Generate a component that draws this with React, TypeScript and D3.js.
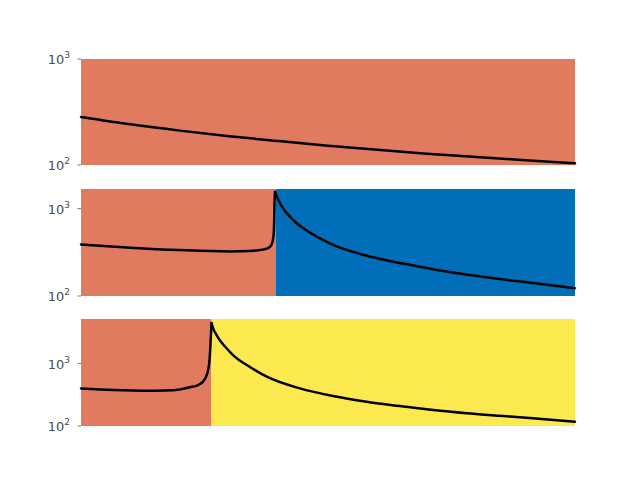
import React from "react";
import * as d3 from "d3";

// x runs 0..100 across each panel, y values
const xs1 = [0, 10, 20, 30, 40, 50, 60, 70, 80, 90, 100];
const vals1 = [284, 242, 211, 187, 168, 152, 139, 128, 119, 111, 104];

const xs2 = [0, 10, 20, 30, 34.2, 36.23, 37.25, 37.85, 38.26, 38.66, 38.93, 39.07, 39.17, 39.27,
  39.68, 40.28, 41.3, 42.3, 43.66, 45, 48.38, 51.76, 55.12, 58.5, 65.2, 72.1, 78.7, 85.4, 92.3, 100];
const vals2 = [390, 358, 336, 324, 327, 336, 344, 354, 367, 399, 468, 609, 1147, 1553,
  1361, 1153, 941, 810, 680, 597, 458, 370, 320, 283, 235, 199, 174, 155, 139, 123];
const peak2 = 13;

const xs3 = [0, 6.5, 13.4, 17, 20, 22.06, 23.68, 24.7, 25.3, 25.71, 26.01, 26.21, 26.42,
  26.72, 27.33, 28.14, 29.15, 30.77, 34.2, 37.6, 44.3, 51, 57.8, 64.6, 71.3, 78.1, 84.8, 91.5, 100];
const vals3 = [401, 378, 367, 370, 385, 417, 454, 515, 610, 773, 1133, 2023, 4470,
  3720, 2980, 2345, 1880, 1374, 883, 617, 401, 302, 245, 209, 180, 160, 146, 133, 117];
const peak3 = 12;

const yTicks = [100, 1000];
const yTickExp = ["2", "3"];

const panels = [
  { xs: xs1, vals: vals1, peak: -1, yMax: 1000, top: 59, bottom: 165,
    spans: [{ from: 0, to: 100, color: "#e07b5f" }] },
  { xs: xs2, vals: vals2, peak: peak2, yMax: 1680, top: 189, bottom: 296,
    spans: [{ from: 0, to: 39.4, color: "#e07b5f" }, { from: 39.4, to: 100, color: "#006eb8" }] },
  { xs: xs3, vals: vals3, peak: peak3, yMax: 5200, top: 319, bottom: 426,
    spans: [{ from: 0, to: 26.4, color: "#e07b5f" }, { from: 26.4, to: 100, color: "#fce94f" }] },
];

const x = d3.scaleLinear().domain([0, 100]).range([81, 575]);

function Panel({ p }: { p: any }) {
  const y = d3.scaleLog().domain([100, p.yMax]).range([p.bottom, p.top]);
  const pts: [number, number][] = p.xs.map((d: number, i: number) => [x(d), y(p.vals[i])]);
  const line = d3.line().curve(d3.curveMonotoneX);
  const segs = p.peak < 0 ? [pts] : [pts.slice(0, p.peak + 1), pts.slice(p.peak)];
  return (
    <g>
      {p.spans.map((s: any, i: number) => (
        <rect key={i} x={x(s.from)} y={p.top} width={x(s.to) - x(s.from)}
          height={p.bottom - p.top} fill={s.color} />
      ))}
      {segs.map((s, i) => (
        <path key={i} d={line(s) || ""} fill="none" stroke="#000" strokeWidth={2.5}
          strokeLinejoin="round" strokeLinecap="round" />
      ))}
      {yTicks.map((t, i) => (
        <g key={t} transform={`translate(0,${y(t)})`}>
          <line x1={77.5} x2={81} stroke="#555" strokeWidth={0.8} />
          <text x={70} y={5} textAnchor="end" fill="#4d4d4d"
            fontFamily="DejaVu Sans" fontSize={13}>
            10<tspan fontSize={9} dy={-6}>{yTickExp[i]}</tspan>
          </text>
        </g>
      ))}
    </g>
  );
}

export default function App() {
  return (
    <svg width={640} height={480} style={{ position: "absolute", left: 0, top: 0 }}>
      <rect width={640} height={480} fill="#fff" />
      {panels.map((p, i) => <Panel key={i} p={p} />)}
    </svg>
  );
}
